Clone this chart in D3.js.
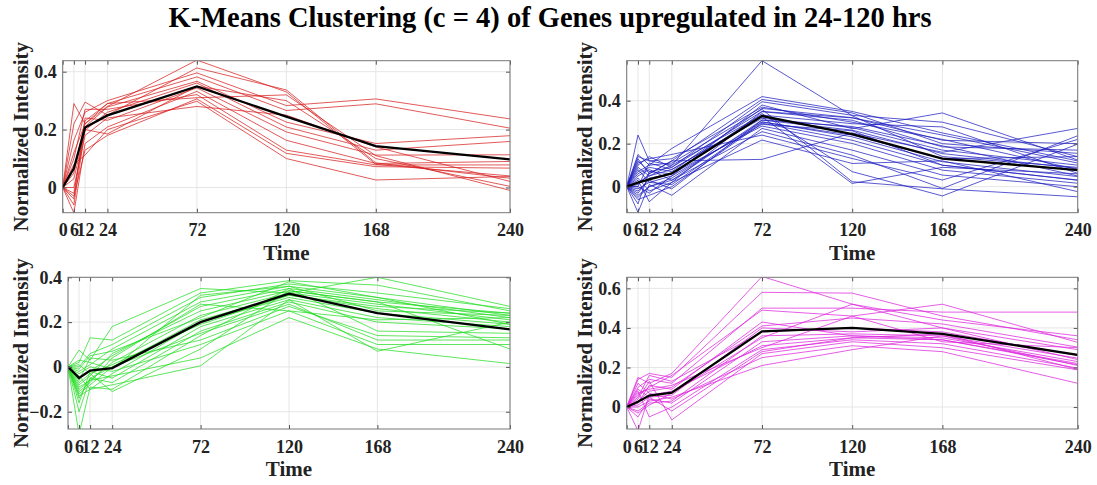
<!DOCTYPE html>
<html>
<head>
<meta charset="utf-8">
<script src="https://cdn.jsdelivr.net/npm/d3@7"></script>
<style>
  body { margin: 0; background: #fff; }
  text { font-family: "Liberation Serif", "Times New Roman", serif; font-weight: bold; }
</style>
</head>
<body>
<div id="chart"></div>
<script>
// time points (hrs) and their tick labels
var times = [0, 6, 12, 24, 72, 120, 168, 240];
var timeLabels = ["0", "6", "12", "24", "72", "120", "168", "240"];

// cluster 1 (red)
var redGenes = [
  [0, 0.29, 0.22, 0.28, 0.44, 0.33, 0.08, 0.04],
  [0, 0.22, 0.295, 0.25, 0.413, 0.337, 0.085, 0.032],
  [0, 0.163, 0.26, 0.30, 0.396, 0.283, 0.306, 0.237],
  [0, 0.05, 0.23, 0.29, 0.382, 0.266, 0.289, 0.205],
  [0, -0.02, 0.21, 0.278, 0.367, 0.226, 0.152, 0.179],
  [0, 0.03, 0.198, 0.26, 0.361, 0.209, 0.129, 0.159],
  [0, -0.04, 0.24, 0.232, 0.344, 0.192, 0.112, 0.113],
  [0, -0.088, 0.152, 0.209, 0.332, 0.163, 0.083, 0.09],
  [0, 0.10, 0.27, 0.27, 0.321, 0.129, 0.078, 0.078],
  [0, -0.03, 0.129, 0.18, 0.306, 0.118, 0.072, 0.067],
  [0, 0.08, 0.112, 0.20, 0.298, 0.10, 0.026, 0.038],
  [0, 0.0, 0.18, 0.24, 0.28, 0.25, 0.14, 0.021],
  [0, -0.06, 0.20, 0.185, 0.35, 0.30, 0.10, 0.004],
  [0, 0.12, 0.22, 0.29, 0.31, 0.32, 0.11, -0.01]
];
var redMean = [0, 0.066, 0.207, 0.249, 0.349, 0.245, 0.143, 0.097];
var redYRange = [-0.087, 0.438];
var redYTicks = [0, 0.2, 0.4];

// cluster 2 (blue)
var blueGenes = [
  [0, 0.24, 0.12, 0.10, 0.586, 0.33, 0.14, 0.09],
  [0, 0.15, 0.10, 0.178, 0.419, 0.35, 0.25, 0.12],
  [0, 0.13, 0.06, 0.12, 0.406, 0.343, 0.20, 0.155],
  [0, 0.10, 0.14, 0.09, 0.395, 0.332, 0.30, 0.14],
  [0, 0.08, 0.02, 0.05, 0.38, 0.27, 0.343, 0.124],
  [0, 0.06, 0.09, 0.07, 0.364, 0.321, 0.216, 0.20],
  [0, 0.04, -0.02, 0.02, 0.349, 0.309, 0.185, 0.17],
  [0, 0.02, 0.05, 0.10, 0.333, 0.293, 0.278, 0.062],
  [0, 0.0, 0.11, 0.08, 0.318, 0.275, 0.17, 0.10],
  [0, -0.02, 0.03, -0.01, 0.31, 0.263, 0.154, 0.085],
  [0, -0.04, 0.0, 0.04, 0.302, 0.232, 0.116, 0.047],
  [0, -0.06, -0.04, 0.0, 0.295, 0.216, 0.10, 0.031],
  [0, -0.08, 0.07, 0.06, 0.282, 0.201, 0.077, 0.016],
  [0, -0.12, 0.01, -0.04, 0.271, 0.17, 0.054, 0.0],
  [0, 0.05, 0.08, 0.03, 0.256, 0.147, -0.008, 0.237],
  [0, 0.11, 0.13, 0.15, 0.24, 0.131, 0.031, 0.22],
  [0, 0.03, -0.07, 0.02, 0.217, 0.108, 0.12, -0.023],
  [0, 0.01, 0.06, 0.12, 0.127, 0.25, 0.16, 0.271],
  [0, -0.03, 0.04, 0.06, 0.34, 0.07, -0.043, 0.198],
  [0, 0.07, 0.10, 0.11, 0.36, 0.023, -0.01, -0.047],
  [0, 0.09, 0.05, 0.08, 0.325, 0.015, 0.09, 0.06],
  [0, -0.01, 0.02, 0.01, 0.30, 0.24, 0.13, 0.14],
  [0, 0.12, 0.07, 0.09, 0.35, 0.32, 0.24, 0.11],
  [0, 0.0, -0.03, 0.05, 0.29, 0.26, 0.10, 0.03],
  [0, 0.14, 0.12, 0.13, 0.37, 0.30, 0.22, 0.08],
  [0, -0.05, 0.0, 0.03, 0.31, 0.28, 0.19, 0.05]
];
var blueMean = [0, 0.019, 0.034, 0.062, 0.329, 0.244, 0.131, 0.077];
var blueYRange = [-0.121, 0.586];
var blueYTicks = [0, 0.2, 0.4];

// cluster 3 (green)
var greenGenes = [
  [0, 0.075, 0.03, 0.18, 0.35, 0.33, 0.40, 0.27],
  [0, 0.02, 0.13, 0.12, 0.33, 0.385, 0.365, 0.25],
  [0, 0.0, 0.06, 0.10, 0.31, 0.37, 0.33, 0.26],
  [0, -0.02, 0.01, 0.08, 0.29, 0.36, 0.31, 0.23],
  [0, -0.05, -0.02, 0.05, 0.27, 0.35, 0.30, 0.22],
  [0, -0.08, -0.04, 0.06, 0.25, 0.34, 0.29, 0.24],
  [0, -0.10, -0.06, 0.02, 0.23, 0.33, 0.28, 0.21],
  [0, -0.12, -0.08, 0.0, 0.21, 0.32, 0.26, 0.20],
  [0, -0.13, -0.10, -0.03, 0.20, 0.31, 0.24, 0.19],
  [0, -0.16, -0.02, -0.05, 0.18, 0.30, 0.22, 0.18],
  [0, -0.20, -0.05, -0.07, 0.16, 0.29, 0.20, 0.17],
  [0, -0.30, -0.09, -0.10, 0.14, 0.35, 0.16, 0.15],
  [0, -0.06, 0.04, 0.03, 0.12, 0.27, 0.14, 0.13],
  [0, -0.03, 0.0, -0.02, 0.10, 0.25, 0.10, 0.10],
  [0, 0.01, -0.03, -0.11, 0.08, 0.34, 0.29, 0.08],
  [0, -0.09, -0.06, -0.04, 0.04, 0.22, 0.08, 0.015],
  [0, -0.04, -0.10, -0.08, 0.005, 0.30, 0.07, 0.20],
  [0, 0.03, 0.02, -0.01, 0.32, 0.36, 0.25, 0.23],
  [0, -0.11, -0.07, 0.04, 0.28, 0.25, 0.21, 0.22],
  [0, -0.01, 0.05, 0.07, 0.22, 0.38, 0.31, 0.19],
  [0, -0.07, -0.03, 0.01, 0.19, 0.32, 0.27, 0.24],
  [0, -0.14, -0.05, 0.0, 0.15, 0.28, 0.12, 0.12]
];
var greenMean = [0, -0.049, -0.016, -0.005, 0.20, 0.327, 0.24, 0.168];
var greenYRange = [-0.277, 0.40];
var greenYTicks = [-0.2, 0, 0.2, 0.4];

// cluster 4 (magenta)
var magentaGenes = [
  [0, 0.15, 0.12, 0.17, 0.66, 0.52, 0.44, 0.36],
  [0, 0.14, 0.17, 0.15, 0.58, 0.576, 0.46, 0.34],
  [0, 0.10, 0.14, 0.12, 0.50, 0.50, 0.48, 0.48],
  [0, 0.06, 0.10, 0.16, 0.49, 0.46, 0.52, 0.327],
  [0, 0.03, 0.08, 0.10, 0.41, 0.45, 0.42, 0.303],
  [0, 0.01, 0.05, 0.06, 0.40, 0.38, 0.40, 0.29],
  [0, -0.02, 0.02, 0.03, 0.36, 0.37, 0.36, 0.247],
  [0, -0.05, 0.04, 0.02, 0.33, 0.36, 0.35, 0.23],
  [0, -0.12, 0.06, 0.08, 0.31, 0.35, 0.34, 0.214],
  [0, 0.08, -0.05, 0.0, 0.29, 0.34, 0.32, 0.197],
  [0, 0.04, 0.13, -0.065, 0.27, 0.33, 0.30, 0.188],
  [0, 0.12, 0.07, 0.04, 0.25, 0.31, 0.28, 0.12],
  [0, 0.0, 0.03, 0.05, 0.21, 0.29, 0.36, 0.21],
  [0, 0.05, 0.16, 0.13, 0.38, 0.40, 0.38, 0.26],
  [0, 0.07, 0.09, 0.11, 0.30, 0.46, 0.33, 0.30],
  [0, -0.03, 0.01, 0.07, 0.35, 0.52, 0.40, 0.24],
  [0, 0.02, 0.11, 0.09, 0.43, 0.36, 0.34, 0.22],
  [0, 0.09, 0.05, -0.02, 0.28, 0.35, 0.37, 0.19]
];
var magentaMean = [0, 0.027, 0.058, 0.073, 0.383, 0.40, 0.37, 0.264];
var magentaYRange = [-0.111, 0.656];
var magentaYTicks = [0, 0.2, 0.4, 0.6];

var titleText = "K-Means Clustering (c = 4) of Genes upregulated in 24-120 hrs";

var width = 1097, height = 485;

var svg = d3.select("#chart")
  .append("svg")
  .attr("width", width)
  .attr("height", height);

svg.append("rect").attr("width", width).attr("height", height).attr("fill", "#fff");

svg.append("text")
  .attr("x", 550)
  .attr("y", 27)
  .attr("text-anchor", "middle")
  .style("font-size", "28.5px")
  .attr("fill", "#000")
  .text(titleText);

// panel layout
var panels = [
  { genes: redGenes, mean: redMean, range: redYRange, ticks: redYTicks, color: "#d81e1e",
    l: 62.7, r: 510, t: 60.7, b: 212.7, labX: 28 },
  { genes: blueGenes, mean: blueMean, range: blueYRange, ticks: blueYTicks, color: "#1c1cc0",
    l: 626.7, r: 1077.7, t: 60.7, b: 212.7, labX: 592 },
  { genes: greenGenes, mean: greenMean, range: greenYRange, ticks: greenYTicks, color: "#22dd22",
    l: 68, r: 510, t: 277.3, b: 429, labX: 28 },
  { genes: magentaGenes, mean: magentaMean, range: magentaYRange, ticks: magentaYTicks, color: "#dd22dd",
    l: 626.7, r: 1077.7, t: 277.3, b: 429, labX: 592 }
];

function fmt(v) {
  return v === 0 ? "0" : d3.format(".1f")(v);
}

panels.forEach(function (p, k) {
  var w = p.r - p.l, h = p.b - p.t;
  var x = d3.scaleLinear().domain([0, 240]).range([0, w]);
  var y = d3.scaleLinear().domain(p.range).range([h, 0]);

  var g = svg.append("g").attr("transform", "translate(" + p.l + "," + p.t + ")");

  g.append("clipPath").attr("id", "clip" + k)
    .append("rect").attr("width", w).attr("height", h);

  // grid
  g.selectAll(".vg").data(times).enter().append("line")
    .attr("x1", d => x(d)).attr("x2", d => x(d))
    .attr("y1", 0).attr("y2", h)
    .attr("stroke", "#e0e0e0").attr("stroke-width", 0.8);
  g.selectAll(".hg").data(p.ticks).enter().append("line")
    .attr("x1", 0).attr("x2", w)
    .attr("y1", d => y(d)).attr("y2", d => y(d))
    .attr("stroke", "#e0e0e0").attr("stroke-width", 0.8);

  var line = d3.line()
    .x((d, i) => x(times[i]))
    .y(d => y(d));

  var plot = g.append("g").attr("clip-path", "url(#clip" + k + ")");

  plot.selectAll(".gene").data(p.genes).enter().append("path")
    .attr("d", line)
    .attr("fill", "none")
    .attr("stroke", p.color)
    .attr("stroke-opacity", 0.82)
    .attr("stroke-width", 0.9);

  plot.append("path")
    .attr("d", line(p.mean))
    .attr("fill", "none")
    .attr("stroke", "#000")
    .attr("stroke-width", 2.3);

  // axes with inside ticks
  var xb = g.append("g").attr("transform", "translate(0," + h + ")")
    .call(d3.axisBottom(x).tickValues(times).tickFormat((d, i) => timeLabels[i])
      .tickSize(-4).tickSizeOuter(0).tickPadding(11));
  var xt = g.append("g")
    .call(d3.axisTop(x).tickValues(times).tickFormat("").tickSize(-4).tickSizeOuter(0));
  var yl = g.append("g")
    .call(d3.axisLeft(y).tickValues(p.ticks).tickFormat(fmt)
      .tickSize(-4).tickSizeOuter(0).tickPadding(6));
  var yr = g.append("g").attr("transform", "translate(" + w + ",0)")
    .call(d3.axisRight(y).tickValues(p.ticks).tickFormat("").tickSize(-4).tickSizeOuter(0));

  [xb, xt, yl, yr].forEach(function (a) {
    a.attr("font-family", null).attr("font-size", null);
    a.select(".domain").remove();
    a.selectAll(".tick line").attr("stroke", "#555");
    a.selectAll("text")
      .style("font-family", '"Liberation Serif", "Times New Roman", serif')
      .style("font-weight", "bold")
      .style("font-size", "18px")
      .attr("fill", "#222");
  });

  // box
  g.append("rect")
    .attr("width", w).attr("height", h)
    .attr("fill", "none")
    .attr("stroke", "#777")
    .attr("stroke-width", 1);

  // labels
  svg.append("text")
    .attr("transform", "translate(" + p.labX + "," + (p.t + h / 2) + ") rotate(-90)")
    .attr("text-anchor", "middle")
    .style("font-size", "21px")
    .attr("fill", "#222")
    .text("Normalized Intensity");

  svg.append("text")
    .attr("x", p.l + w / 2)
    .attr("y", p.b + 47)
    .attr("text-anchor", "middle")
    .style("font-size", "21px")
    .attr("fill", "#222")
    .text("Time");
});
</script>
</body>
</html>
